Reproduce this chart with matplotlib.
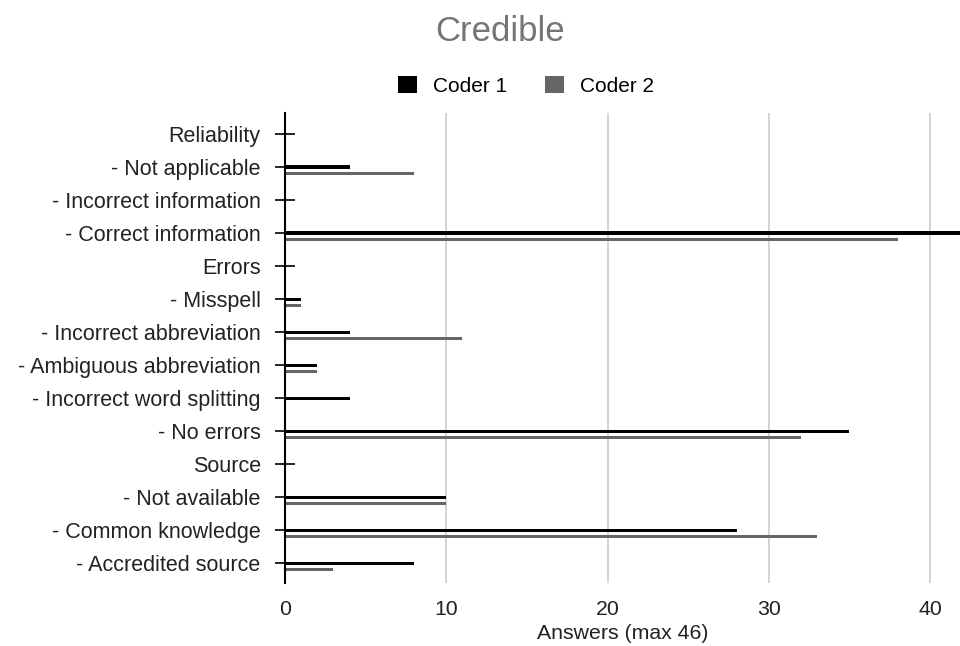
import numpy as np
import matplotlib
matplotlib.use("Agg")
import matplotlib.pyplot as plt

plt.rcParams['font.family'] = ['Liberation Sans', 'DejaVu Sans']

categories = ["Reliability", "- Not applicable", "- Incorrect information",
              "- Correct information", "Errors", "- Misspell",
              "- Incorrect abbreviation", "- Ambiguous abbreviation",
              "- Incorrect word splitting", "- No errors", "Source",
              "- Not available", "- Common knowledge", "- Accredited source"]
coder1 = [0, 4, 0, 44, 0, 1, 4, 2, 4, 35, 0, 10, 28, 8]
coder2 = [0, 8, 0, 38, 0, 1, 11, 2, 0, 32, 0, 10, 33, 3]
xticks = [0, 10, 20, 30, 40]

fig = plt.figure(figsize=(9.6, 6.46), dpi=100)
ax = fig.add_axes([285/960, 1 - 583/646, 1 - 285/960, (583 - 113)/646])

y = np.arange(len(categories))
ax.barh(y, coder1, height=0.1, color='#000000', label='Coder 1', zorder=3)
ax.barh(y + 0.2, coder2, height=0.1, color='#666666', label='Coder 2', zorder=3)

ax.set_xlim(0, 41.86)
ax.set_ylim(13.6, -0.64)
ax.set_yticks(y)
ax.set_yticklabels(categories, fontsize=15.5, color='#222222')
ax.set_xticks(xticks)
ax.set_xticklabels([str(t) for t in xticks], fontsize=15.3, color='#222222')
ax.tick_params(axis='y', direction='inout', length=15, width=1.2, pad=10)
ax.tick_params(axis='x', length=0, pad=12)
ax.grid(axis='x', color='#cccccc', linewidth=1.2, zorder=0)

for s in ['top', 'right', 'bottom']:
    ax.spines[s].set_visible(False)
ax.spines['left'].set_linewidth(1.5)
ax.spines['left'].set_zorder(4)

ax.set_xlabel("Answers (max 46)", fontsize=15.3, color='#222222', labelpad=4)

fig.text(500/960, 1 - 41/646, "Credible", ha='center', va='baseline',
         fontsize=25, color='#757575')
fig.legend(handles=ax.get_legend_handles_labels()[0],
           labels=['Coder 1', 'Coder 2'], loc='center',
           bbox_to_anchor=(526/960, 1 - 86/646), ncol=2, frameon=False,
           fontsize=15, handlelength=0.9, handleheight=0.9, columnspacing=1.8,
           handletextpad=0.8)

fig.savefig("out.png", dpi=100, facecolor='white')
